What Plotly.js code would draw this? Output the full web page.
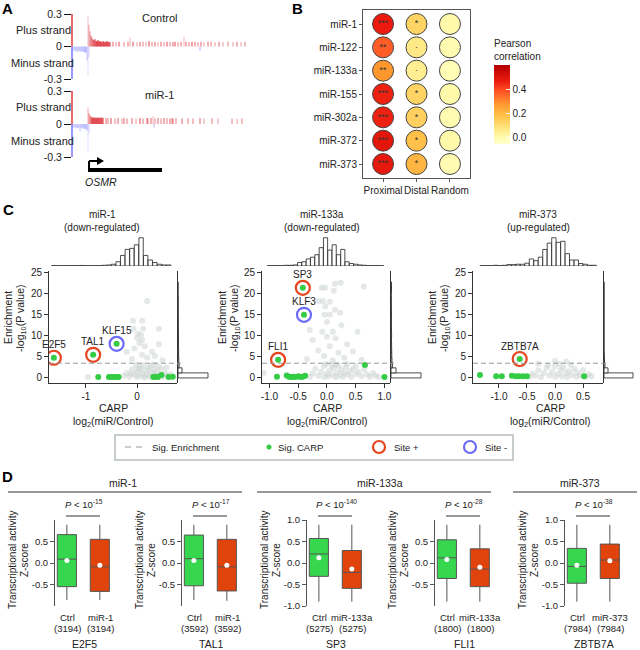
<!DOCTYPE html>
<html><head><meta charset="utf-8">
<script src="https://cdn.plot.ly/plotly-3.0.1.min.js"></script>
<style>body{margin:0;background:#fff}#chart{width:640px;height:650px}</style>
</head><body><div id="chart"></div>
<script>
// ================= DATA =================
// Panel A: [position relative to TSS, signal, intensity]
const aTrackNames = ['Control', 'miR-1'];
const aYTicks = [-0.3, 0, 0.3];
const aYTickText = ['-0.3', '0', '0.3'];
const aCtrlPlus = [[-1,0.28,0.25],[0,0.2,0.35],[1,0.14,0.45],[2,0.1,0.55],[3,0.08,0.6],[4,0.065,0.7],[5,0.06,0.8],[6,0.07,0.7],[7,0.05,0.95],[8,0.05,0.95],[9,0.06,0.9],[10,0.045,0.95],[11,0.05,0.9],[12,0.045,0.95],[13,0.04,0.9],[14,0.05,0.9],[15,0.045,0.95],[16,0.04,0.9],[17,0.045,0.9],[18,0.05,0.95],[19,0.04,0.9],[20,0.045,0.8],[21,0.04,0.9],[24,0.045,0.6],[27,0.04,0.5],[30,0.045,0.7],[35,0.04,0.5],[39,0.045,0.6],[41,0.08,0.3],[44,0.045,0.7],[48,0.04,0.4],[51,0.045,0.6],[54,0.045,0.5],[57,0.04,0.4],[60,0.05,0.7],[63,0.045,0.5],[66,0.045,0.6],[69,0.04,0.4],[72,0.045,0.6],[75,0.04,0.5],[78,0.045,0.7],[81,0.045,0.5],[84,0.04,0.6],[86,0.045,0.7],[89,0.04,0.5],[92,0.045,0.6],[95,0.09,0.3],[97,0.045,0.6],[100,0.04,0.5],[103,0.045,0.7],[106,0.045,0.6],[109,0.04,0.5],[112,0.045,0.6],[115,0.04,0.4],[119,0.045,0.6],[122,0.045,0.5],[126,0.04,0.4],[130,0.045,0.6],[134,0.04,0.4],[139,0.045,0.5],[144,0.04,0.4],[148,0.045,0.6],[152,0.04,0.4],[156,0.045,0.5]];
const aCtrlMinus = [[-16,-0.04,0.3],[-15,-0.03,0.25],[-14,-0.045,0.35],[-13,-0.04,0.3],[-12,-0.05,0.35],[-11,-0.04,0.25],[-10,-0.045,0.4],[-9,-0.04,0.3],[-8,-0.05,0.35],[-7,-0.045,0.4],[-6,-0.04,0.3],[-5,-0.05,0.45],[-4,-0.06,0.4],[-3,-0.05,0.45],[-2,-0.13,0.35],[-1,-0.27,0.18],[0,-0.1,0.25],[111,-0.04,0.45]];
const aMirPlus = [[-1,0.15,0.3],[0,0.1,0.45],[1,0.08,0.55],[2,0.065,0.7],[3,0.06,0.9],[4,0.06,0.95],[5,0.06,0.9],[6,0.055,0.95],[7,0.06,0.9],[8,0.055,0.95],[9,0.06,0.9],[10,0.055,0.9],[11,0.06,0.9],[12,0.055,0.8],[13,0.06,0.9],[14,0.055,0.8],[17,0.055,0.6],[19,0.055,0.5],[22,0.055,0.7],[26,0.05,0.5],[29,0.055,0.6],[33,0.05,0.4],[35,0.055,0.6],[38,0.05,0.5],[43,0.055,0.6],[47,0.05,0.4],[51,0.055,0.7],[54,0.05,0.5],[58,0.055,0.6],[59,0.05,0.5],[62,0.055,0.6],[64,0.07,0.3],[66,0.05,0.5],[69,0.055,0.6],[72,0.05,0.5],[75,0.055,0.6],[78,0.055,0.5],[81,0.05,0.6],[83,0.055,0.5],[84,0.05,0.6],[87,0.055,0.5],[93,0.05,0.6],[99,0.055,0.5],[104,0.05,0.5],[111,0.055,0.6],[115,0.05,0.4],[123,0.055,0.5],[129,0.05,0.4],[143,0.05,0.5],[148,0.05,0.4],[153,0.05,0.5]];
const aMirMinus = [[-16,-0.03,0.25],[-15,-0.035,0.3],[-14,-0.03,0.25],[-13,-0.04,0.35],[-12,-0.035,0.3],[-11,-0.04,0.35],[-10,-0.035,0.25],[-9,-0.07,0.3],[-8,-0.04,0.35],[-7,-0.035,0.3],[-6,-0.04,0.35],[-5,-0.045,0.4],[-4,-0.04,0.35],[-3,-0.05,0.4],[-2,-0.06,0.4],[-1,-0.25,0.18],[0,-0.08,0.25],[65,-0.03,0.45]];

// Panel B
const bMirs = ['miR-1','miR-122','miR-133a','miR-155','miR-302a','miR-372','miR-373'];
const bRegions = ['Proximal','Distal','Random'];
const bProximal = [0.47,0.37,0.28,0.46,0.46,0.49,0.48];
const bDistal = [0.13,0.07,0.05,0.13,0.14,0.18,0.21];
const bRandom = [0.01,0.0,-0.01,0.01,0.0,0.01,0.0];
const bProxSig = ['***','**','**','***','***','***','***'];
const bDistSig = ['*','·','·','*','*','*','*'];
const bRandSig = ['','','','','','',''];
const bCbTicks = [0, 0.2, 0.4];
const bCbText = ['0.0','0.2','0.4'];

// Panel C
const cMirs = ['miR-1','miR-133a','miR-373'];
const cDirs = ['(down-regulated)','(down-regulated)','(up-regulated)'];
const cSigLine = 3.5;
const c1GrayX = [0.2,-0.08,0.1,-0.07,0.12,0.43,0.02,0.08,0.0,0.1,0.05,-0.2,0.29,0.43,0.15,-0.05,0.35,0.1,0.2,-0.1,0.5,-0.96,-0.25,-0.2,-0.15,-0.1,-0.05,0,0,0.05,0.05,0.1,0.12,0.15,0.18,0.2,0.22,0.25,0.28,0.3,0.33,0.35,0.38,0.4,0.45,0.48,0.5,0.55,0.6,0.65,-0.02,0.08,0.26,0.42,0.14,-0.12,0.58,0.02,0.32,0.7];
const c1GrayY = [18.3,13.6,13.6,11.7,11.7,11.7,10.5,10.2,9.5,9.0,8.3,6.2,6.2,8.0,7.5,7.0,5.2,5.5,4.8,4.5,4.2,0.2,0.5,1.2,0.3,2.0,0.8,1.5,0.2,2.6,0.5,1.1,3.0,0.4,1.8,0.9,2.4,0.2,1.4,0.6,2.0,1.0,0.3,1.6,0.7,2.2,0.2,1.2,0.5,0.9,3.1,2.0,2.9,2.7,0.1,1.0,2.5,2.2,3.2,0.3];
const c1GreenX = [-0.76,-0.55,-0.5,-0.45,-0.4,-0.36,0.32,0.36,0.41,0.48,0.62,0.7];
const c1GreenY = [0.2,0.2,0.2,0.2,0.2,0.2,0.2,0.3,0.2,0.7,0.2,0.3];
const c1Sites = ['E2F5','TAL1','KLF15'];
const c1SiteX = [-1.63,-0.86,-0.4];
const c1SiteY = [4.8,5.5,8.1];
const c1SiteSign = ['+','+','-'];
const c2GrayX = [-0.09,-0.03,0.12,0.14,0.24,0.64,-0.15,-0.07,0.05,-0.03,0.14,-0.04,0.05,0.23,0.0,0.25,-0.3,-0.08,0.1,0.53,0.0,0.15,-0.25,0.35,0.05,-0.15,0.2,0.45,-0.05,0.3,-0.35,0.6,0.1,-1.1,-0.3,-0.25,-0.2,-0.15,-0.1,-0.05,-0.05,0,0.02,0.05,0.08,0.1,0.12,0.15,0.18,0.2,0.22,0.25,0.28,0.3,0.33,0.36,0.4,0.42,0.45,0.5,0.55,0.6,0.65,0.7,0.75,0.8,-0.02,0.15,0.35,0.5,0.85,0.9];
const c2GrayY = [21.4,21.4,20.7,22.4,22.6,21.7,18.3,18.3,18.1,17.0,16.2,15.0,15.0,15.5,13.3,12.5,11.4,11.0,11.0,11.0,9.8,9.4,9.0,8.0,7.5,6.5,6.0,6.3,5.2,4.8,4.5,4.3,4.2,1.2,0.3,1.0,2.2,0.5,1.5,0.2,2.8,1.0,0.4,1.8,3.1,0.7,2.4,0.2,1.3,2.9,0.6,1.9,0.3,1.1,2.5,0.8,1.6,0.2,2.1,0.9,1.4,0.4,2.0,0.8,0.3,1.2,3.3,3.2,3.3,2.7,0.5,0.2];
const c2GreenX = [-0.87,-0.7,-0.66,-0.62,-0.58,-0.55,-0.5,-0.46,-0.42,-0.38,0.66,1.0];
const c2GreenY = [0.3,0.6,0.3,0.2,0.3,0.2,0.4,0.2,0.3,0.5,3.1,0.2];
const c2Sites = ['SP3','KLF3','FLI1'];
const c2SiteX = [-0.42,-0.4,-0.85];
const c2SiteY = [21.4,15.0,4.3];
const c2SiteSign = ['+','-','+'];
const c3GrayX = [-0.45,-0.4,-0.35,-0.3,-0.25,-0.2,-0.15,-0.1,-0.05,0,0,0.05,0.1,0.12,0.15,0.2,0.22,0.25,0.3,0.35,0.38,0.4,0.45,0.5,0.55,0.6,-0.12,0.08,0.28,0.0,0.2,-0.3,0.65];
const c3GrayY = [0.3,1.0,0.5,1.8,0.2,1.2,2.4,0.6,1.5,0.3,2.8,0.9,1.9,0.4,2.5,1.1,0.2,1.6,0.7,2.1,0.3,1.3,0.6,1.8,0.3,0.9,3.0,3.3,3.1,4.0,3.9,3.4,0.4];
const c3GreenX = [-1.34,-1.05,-0.95,-0.77,-0.7,-0.64,-0.57,-0.5,0.52];
const c3GreenY = [0.7,0.4,0.4,0.5,0.4,0.4,0.4,0.4,0.4];
const c3Sites = ['ZBTB7A'];
const c3SiteX = [-0.63];
const c3SiteY = [4.5];
const c3SiteSign = ['+'];
// marginal histograms (CARP, top) : bin centres and counts
const c1HistX = [-1.63,-1.54,-1.45,-1.36,-1.27,-1.18,-1.09,-1.0,-0.91,-0.82,-0.73,-0.64,-0.55,-0.46,-0.37,-0.28,-0.19,-0.1,-0.01,0.08,0.17,0.26,0.35,0.44,0.53,0.62];
const c1HistN = [1,1,1,1,1,1,1.5,1,1,1,1,2,3,5,12,30,47,50,60,80,30,17,10,5,3,3];
const c2HistX = [-1.0,-0.925,-0.85,-0.775,-0.7,-0.625,-0.55,-0.475,-0.4,-0.325,-0.25,-0.175,-0.1,-0.025,0.05,0.125,0.2,0.275,0.35,0.425,0.5,0.575,0.65,0.725,0.8,0.875,0.95];
const c2HistN = [1,1,1,1,2,2,3,10,12,20,25,32,52,80,45,60,32,47,12,7,5,3,2,1,1,1,1];
const c3HistX = [-1.3,-1.22,-1.14,-1.06,-0.98,-0.9,-0.82,-0.74,-0.66,-0.58,-0.5,-0.42,-0.34,-0.26,-0.18,-0.1,-0.02,0.06,0.14,0.22,0.3,0.38,0.46,0.54,0.62,0.7];
const c3HistN = [1,1,1,2,1,2,4,4,5,5,8,20,15,25,47,65,80,67,70,35,17,17,7,5,2,2];
// marginal histograms (enrichment, right): bin centres and counts
const cRHistY = [0.6,1.8,3.0,4.2,5.4,6.6,7.8,9.0,10.2,11.4,12.6,13.8,15.0,16.2,17.4,18.6,19.8,21.0,22.2];
const c1RHistN = [30,4,1.2,0.8,0.6,0.6,0.5,0.5,0.5,0.4,0.3,0.3,0.2,0.2,0.2,0.2,0,0,0];
const c2RHistN = [30,5,1.5,1,0.8,0.7,0.6,0.5,0.6,0.5,0.4,0.4,0.5,0.4,0.3,0.3,0.2,0.5,0.4];
const c3RHistN = [29,4,1,0.5,0.3,0,0,0,0,0,0,0,0,0,0,0,0,0,0];
const cLegend = ['Sig. Enrichment','Sig. CARP','Site +','Site -'];

// Panel D
const dGroups = ['miR-1','miR-133a','miR-373'];
const dGenes = ['E2F5','TAL1','SP3','FLI1','ZBTB7A'];
const dMirs = ['miR-1','miR-1','miR-133a','miR-133a','miR-373'];
const dN = [3194,3592,5275,1800,7984];
const dPexp = ['-15','-17','-140','-28','-38'];
const dCtrlQ1 = [-0.55,-0.53,-0.31,-0.36,-0.47];
const dCtrlMed = [0.09,0.1,0.21,0.12,-0.08];
const dCtrlQ3 = [0.66,0.65,0.57,0.54,0.34];
const dCtrlLo = [-0.86,-0.86,-0.9,-0.9,-0.9];
const dCtrlHi = [0.89,0.89,0.89,0.89,0.89];
const dCtrlMean = [0.06,0.06,0.12,0.08,-0.05];
const dMirQ1 = [-0.66,-0.65,-0.59,-0.55,-0.36];
const dMirMed = [-0.09,-0.09,-0.22,-0.14,0.07];
const dMirQ3 = [0.55,0.55,0.29,0.33,0.44];
const dMirLo = [-0.86,-0.88,-0.9,-0.9,-0.9];
const dMirHi = [0.89,0.89,0.89,0.89,0.89];
const dMirMean = [-0.05,-0.05,-0.14,-0.1,0.05];
const dTicksShort = [-0.5,0,0.5];
const dTicksLong = [-1,-0.5,0,0.5,1];

// ================= BUILD =================
const W = 640, H = 650;
const FONT = 'Liberation Sans, Arial, sans-serif';
const traces = [], shapes = [], annotations = [];
const layout = {width:W,height:H,margin:{l:0,r:0,t:0,b:0},showlegend:false,barmode:'overlay',
  paper_bgcolor:'#fff',plot_bgcolor:'rgba(0,0,0,0)',font:{family:FONT,size:10,color:'#222'},
  shapes:shapes,annotations:annotations,hovermode:false};
let nAx = 0;
function axes(x0,x1,y0,y1,xo,yo){
  nAx++; const s = nAx===1?'':String(nAx);
  const base = {showgrid:false,zeroline:false,showline:false,ticks:'',showticklabels:false,fixedrange:true};
  layout['xaxis'+s] = Object.assign({},base,{domain:[x0/W,x1/W],anchor:'y'+s},xo||{});
  layout['yaxis'+s] = Object.assign({},base,{domain:[1-y1/H,1-y0/H],anchor:'x'+s},yo||{});
  return {xa:'x'+s, ya:'y'+s};
}
function txt(t,x,y,o){annotations.push(Object.assign({text:t,x:x/W,y:1-y/H,xref:'paper',yref:'paper',showarrow:false,xanchor:'center',yanchor:'middle',font:{size:10,color:'#222'}},o||{}));}
function line(x0,y0,x1,y1,color,width,dash){shapes.push({type:'line',xref:'paper',yref:'paper',x0:x0/W,y0:1-y0/H,x1:x1/W,y1:1-y1/H,line:{color:color,width:width,dash:dash||'solid'}});}
function P(x,y){return (x/W)+','+(1-y/H);}

// Panel letters
txt('<b>A</b>',7,8,{font:{size:15,color:'#000'}});
txt('<b>B</b>',297,8,{font:{size:15,color:'#000'}});
txt('<b>C</b>',8,210,{font:{size:15,color:'#000'}});
txt('<b>D</b>',7,476,{font:{size:15,color:'#000'}});

// ---- Panel A
const aTracks = [{plus:aCtrlPlus,minus:aCtrlMinus,y0:14,y1:79},{plus:aMirPlus,minus:aMirMinus,y0:91,y1:157}];
aTracks.forEach((tr,i)=>{
  const a = axes(72,250,tr.y0,tr.y1,{range:[-17,161]},
    {range:[-0.3,0.3],tickvals:aYTicks,ticktext:aYTickText,ticks:'outside',ticklen:7,tickcolor:'#111',showticklabels:true,tickfont:{size:10.5,color:'#222'}});
  traces.push({type:'bar',x:tr.plus.map(d=>d[0]),y:tr.plus.map(d=>d[1]),width:1.1,
    marker:{color:tr.plus.map(d=>'rgba(215,20,30,'+d[2]+')'),line:{width:0}},xaxis:a.xa,yaxis:a.ya});
  traces.push({type:'bar',x:tr.minus.map(d=>d[0]),y:tr.minus.map(d=>d[1]),width:1.1,
    marker:{color:tr.minus.map(d=>'rgba(90,90,255,'+d[2]+')'),line:{width:0}},xaxis:a.xa,yaxis:a.ya});
  shapes.push({type:'line',xref:'paper',yref:a.ya,x0:72/W,x1:72/W,y0:0,y1:0.3,line:{color:'#e23b3b',width:1.5}});
  shapes.push({type:'line',xref:'paper',yref:a.ya,x0:72/W,x1:72/W,y0:0,y1:-0.3,line:{color:'#7777ff',width:1.5}});
  const h = tr.y1-tr.y0;
  txt('Plus strand',43,tr.y0+h*0.25,{font:{size:11}});
  txt('Minus strand',42,tr.y0+h*0.75,{font:{size:11}});
  txt(aTrackNames[i],159,tr.y0+4,{font:{size:11}});
});
// TSS arrow and gene body
line(89,172,89,161,'#000',2);
line(89,161,98,161,'#000',2);
shapes.push({type:'path',xref:'paper',yref:'paper',path:'M'+P(97,157)+' L'+P(104,161)+' L'+P(97,165)+' Z',fillcolor:'#000',line:{width:0}});
shapes.push({type:'rect',xref:'paper',yref:'paper',x0:89/W,x1:162/W,y0:1-172/H,y1:1-168/H,fillcolor:'#000',line:{width:0}});
txt('<i>OSMR</i>',101,182,{font:{size:10.5}});

// ---- Panel B
{
  const a = axes(363,470,10,178,
    {type:'category',categoryorder:'array',categoryarray:bRegions,range:[-0.6,2.6],showline:true,mirror:true,linecolor:'#555',ticks:'outside',ticklen:3,tickcolor:'#555',showticklabels:true,tickangle:0,tickfont:{size:10}},
    {type:'category',categoryorder:'array',categoryarray:bMirs,range:[6.6,-0.6],showline:true,mirror:true,linecolor:'#555',ticks:'outside',ticklen:3,tickcolor:'#555',showticklabels:true,tickfont:{size:10}});
  const xs=[],ys=[],vs=[],tx=[],ty=[],ts=[];
  [bProximal,bDistal,bRandom].forEach((col,j)=>{
    const sig=[bProxSig,bDistSig,bRandSig][j];
    col.forEach((v,i)=>{xs.push(bRegions[j]);ys.push(bMirs[i]);vs.push(v);
      if(sig[i]){tx.push(bRegions[j]);ty.push(bMirs[i]);ts.push(sig[i]);}});
  });
  const cs = [[0,'#ffffcc'],[0.08,'#fffcb0'],[0.2,'#ffe680'],[0.35,'#ffc24a'],[0.5,'#ff9a30'],[0.65,'#ff5a26'],[0.8,'#ec1a0e'],[1,'#b00000']];
  traces.push({type:'scatter',mode:'markers',x:xs,y:ys,xaxis:a.xa,yaxis:a.ya,
    marker:{size:21,color:vs,colorscale:cs,cmin:-0.05,cmax:0.6,line:{color:'#444',width:1},
      colorbar:{x:494/W,xanchor:'left',y:1-36/H,yanchor:'top',len:108/H,lenmode:'fraction',thickness:16,thicknessmode:'pixels',
        xpad:0,ypad:0,outlinewidth:0,tickvals:bCbTicks,ticktext:bCbText,ticks:'inside',tickcolor:'#fff',ticklen:4,
        tickfont:{size:10},title:{text:'Pearson<br>correlation',side:'top',font:{size:10}}}}});
  traces.push({type:'scatter',mode:'text',x:tx,y:ty,text:ts,textfont:{size:9,color:'#333'},xaxis:a.xa,yaxis:a.ya});
}

// ---- Panel C
const cCfg = [
  {x0:49,x1:177,xr:[-1.725,0.784],tv:[-1,0],tt:['-1','0'],gx:c1GrayX,gy:c1GrayY,grx:c1GreenX,gry:c1GreenY,s:c1Sites,sx:c1SiteX,sy:c1SiteY,ss:c1SiteSign,hx:c1HistX,hn:c1HistN,hw:0.085,rn:c1RHistN,tx:102,ytx:8,cx:113},
  {x0:262,x1:390,xr:[-1.13,1.096],tv:[-1,-0.5,0,0.5,1],tt:['-1.0','-0.5','0.0','0.5','1.0'],gx:c2GrayX,gy:c2GrayY,grx:c2GreenX,gry:c2GreenY,s:c2Sites,sx:c2SiteX,sy:c2SiteY,ss:c2SiteSign,hx:c2HistX,hn:c2HistN,hw:0.072,rn:c2RHistN,tx:322,ytx:222,cx:327},
  {x0:473,x1:603,xr:[-1.464,0.857],tv:[-1,-0.5,0,0.5],tt:['-1.0','-0.5','0.0','0.5'],gx:c3GrayX,gy:c3GrayY,grx:c3GreenX,gry:c3GreenY,s:c3Sites,sx:c3SiteX,sy:c3SiteY,ss:c3SiteSign,hx:c3HistX,hn:c3HistN,hw:0.077,rn:c3RHistN,tx:538,ytx:432,cx:550}
];
cCfg.forEach((c,k)=>{
  const yr=[-1.2,25.4];
  const ht = axes(c.x0,c.x1,236,266,{range:c.xr},{range:[0,85]});
  traces.push({type:'bar',x:c.hx,y:c.hn,width:c.hw,marker:{color:'#fff',line:{color:'#222',width:0.8}},xaxis:ht.xa,yaxis:ht.ya});
  const hr = axes(c.x1+1,c.x1+33,271,383,{range:[0,32]},{range:yr,showline:true,linecolor:'#333',linewidth:1});
  traces.push({type:'bar',orientation:'h',y:cRHistY,x:c.rn,width:1.2,marker:{color:'#fff',line:{color:'#222',width:0.8}},xaxis:hr.xa,yaxis:hr.ya});
  const a = axes(c.x0,c.x1,271,383,
    {range:c.xr,showline:true,linecolor:'#333',linewidth:1,ticks:'outside',ticklen:4,tickcolor:'#333',tickvals:c.tv,ticktext:c.tt,showticklabels:true,tickfont:{size:10}},
    {range:yr,showline:true,linecolor:'#333',linewidth:1,ticks:'outside',ticklen:4,tickcolor:'#333',tickvals:[0,5,10,15,20,25],showticklabels:true,tickfont:{size:10}});
  shapes.push({type:'line',xref:'paper',yref:a.ya,x0:c.x0/W,x1:(c.x1+4)/W,y0:cSigLine,y1:cSigLine,line:{color:'#999',width:1,dash:'5px,3px'}});
  traces.push({type:'scatter',mode:'markers',x:c.gx,y:c.gy,marker:{size:6,color:'rgba(205,213,211,0.55)'},xaxis:a.xa,yaxis:a.ya});
  traces.push({type:'scatter',mode:'markers',x:c.grx,y:c.gry,marker:{size:6,color:'#33cc44'},xaxis:a.xa,yaxis:a.ya});
  traces.push({type:'scatter',mode:'markers',x:c.sx,y:c.sy,marker:{size:6,color:'#33cc44'},xaxis:a.xa,yaxis:a.ya});
  traces.push({type:'scatter',mode:'markers',x:c.sx,y:c.sy,
    marker:{symbol:'circle-open',size:14,color:c.ss.map(s=>s==='+'?'#e6451e':'#6b6bf5'),line:{width:2.2}},xaxis:a.xa,yaxis:a.ya});
  c.s.forEach((name,i)=>{
    annotations.push({text:name,x:c.sx[i],y:c.sy[i],xref:a.xa,yref:a.ya,showarrow:false,yshift:13,font:{size:10,color:'#222'}});
  });
  txt(cMirs[k],c.tx,215,{font:{size:10}});
  txt(cDirs[k],c.tx,227,{font:{size:10}});
  txt('Enrichment',c.ytx,318,{textangle:-90,font:{size:10.5}});
  txt('-log<sub>10</sub>(P value)',c.ytx+13,318,{textangle:-90,font:{size:10.5}});
  txt('CARP',c.cx,408,{font:{size:10.5}});
  txt('log<sub>2</sub>(miR/Control)',c.cx,422,{font:{size:10.5}});
});
// Legend box for C
shapes.push({type:'rect',xref:'paper',yref:'paper',x0:115/W,x1:513/W,y0:1-460/H,y1:1-435/H,line:{color:'#b5bdbd',width:1.5},fillcolor:'rgba(0,0,0,0)'});
line(125,447,143,447,'#999',1,'6px,5px');
txt(cLegend[0],150,447,{xanchor:'left',font:{size:9.5}});
shapes.push({type:'circle',xref:'paper',yref:'paper',x0:266.5/W,x1:271.5/W,y0:1-449.5/H,y1:1-444.5/H,fillcolor:'#33cc44',line:{width:0}});
txt(cLegend[1],276,447,{xanchor:'left',font:{size:9.5}});
shapes.push({type:'circle',xref:'paper',yref:'paper',x0:373/W,x1:385/W,y0:1-453/H,y1:1-441/H,line:{color:'#e6451e',width:2.2}});
txt(cLegend[2],392,447,{xanchor:'left',font:{size:9.5}});
shapes.push({type:'circle',xref:'paper',yref:'paper',x0:464/W,x1:476/W,y0:1-453/H,y1:1-441/H,line:{color:'#6b6bf5',width:2.2}});
txt(cLegend[3],483,447,{xanchor:'left',font:{size:9.5}});

// ---- Panel D
const dAxX = [55,182,307,435,565];
const dGroupSpan = [[8,242,123],[257,491,380],[513,637,580]];
dGroups.forEach((g,i)=>{
  const s=dGroupSpan[i];
  line(s[0],492,s[1],492,'#333',1.2);
  txt(g,s[2],483,{font:{size:10.5}});
});
dGenes.forEach((gene,i)=>{
  const x0 = dAxX[i];
  const tv = (i===2||i===4)?dTicksLong:dTicksShort;
  const a = axes(x0,x0+60,520,606,{range:[0.64,2.46]},
    {range:[-1,1],showline:true,linecolor:'#555',linewidth:1,ticks:'outside',ticklen:4,tickcolor:'#555',tickvals:tv,ticktext:tv.map(v=>v.toFixed(1)),showticklabels:true,tickfont:{size:9.5}});
  traces.push({type:'box',x:[1],q1:[dCtrlQ1[i]],median:[dCtrlMed[i]],q3:[dCtrlQ3[i]],lowerfence:[dCtrlLo[i]],upperfence:[dCtrlHi[i]],
    width:0.58,whiskerwidth:0,fillcolor:'#37d64f',line:{color:'#555',width:1},boxpoints:false,xaxis:a.xa,yaxis:a.ya});
  traces.push({type:'box',x:[2],q1:[dMirQ1[i]],median:[dMirMed[i]],q3:[dMirQ3[i]],lowerfence:[dMirLo[i]],upperfence:[dMirHi[i]],
    width:0.58,whiskerwidth:0,fillcolor:'#e0440c',line:{color:'#555',width:1},boxpoints:false,xaxis:a.xa,yaxis:a.ya});
  traces.push({type:'scatter',mode:'markers',x:[1,2],y:[dCtrlMean[i],dMirMean[i]],marker:{size:5,color:'#fff'},xaxis:a.xa,yaxis:a.ya});
  txt('<i>P</i> < 10<sup>'+dPexp[i]+'</sup>',x0+29,504,{font:{size:9.5}});
  line(x0+11,516,x0+45,516,'#333',1);
  txt('Ctrl',x0+12,617,{font:{size:9.5}});
  txt('('+dN[i]+')',x0+12,628,{font:{size:9.5}});
  txt(dMirs[i],x0+45,617,{font:{size:9.5}});
  txt('('+dN[i]+')',x0+45,628,{font:{size:9.5}});
  txt(gene,x0+29,644,{font:{size:10.5}});
  txt('Transcriptional activity',x0-43,560,{textangle:-90,font:{size:10}});
  txt('Z-score',x0-31,560,{textangle:-90,font:{size:10}});
});

Plotly.newPlot('chart',traces,layout,{staticPlot:true});
</script>
</body></html>
